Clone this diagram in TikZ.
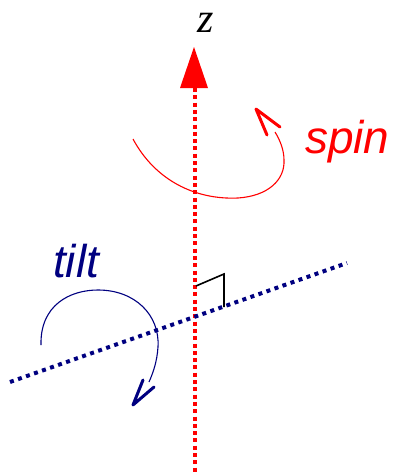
\documentclass[tikz,border=0pt]{standalone}
\usepackage{fontspec}
\setmainfont{Liberation Serif}
\setsansfont{Liberation Sans}
\definecolor{navyc}{RGB}{0,0,128}
\definecolor{redc}{RGB}{255,0,0}
\begin{document}
\begin{tikzpicture}[x=1pt,y=-1pt,
  redaxis/.style={redc,line width=4pt,dash pattern=on 4pt off 3.3pt},
  blueaxis/.style={navyc,line width=4pt,dash pattern=on 4pt off 4.5pt},
  thincurve/.style={line width=1.1pt},
  headv/.style={line width=3pt,line cap=round,line join=round},
  lbl/.style={inner sep=0pt,anchor=base west}]
\useasboundingbox (0,0) rectangle (396,475);
% z axis
\coordinate (ztop) at (194.5,88);
\coordinate (zbot) at (194.5,475);
\draw[redaxis] (ztop) -- (zbot);
\fill[redc] (194,47) -- (180,88) -- (208,88) -- cycle;
\node[inner sep=0pt,anchor=base] (zlabel) at (206,32) {\fontsize{42}{46}\selectfont\itshape z};
% tilt axis
\coordinate (ta) at (10,382);
\coordinate (tb) at (347,263);
\draw[blueaxis] (ta) -- (tb);
% right angle mark
\draw[black,line width=1.6pt] (196,286) -- (224,274) -- (224,307);
% spin arrow
\draw[redc,thincurve] (133,139) .. controls (155,180) and (195,200) .. (238,198)
  .. controls (268,196) and (285,180) .. (284,160)
  .. controls (284,150) and (280,140) .. (275,132);
\draw[redc,headv] (280,127) -- (256,109) -- (267,135);
\node[lbl,text=redc] (spin) at (305,153) {\fontsize{46}{50}\selectfont\sffamily\itshape spin};
% tilt arrow
\draw[navyc,thincurve] (41,345) .. controls (40,305) and (70,290) .. (98,290)
  .. controls (135,290) and (160,315) .. (158,347)
  .. controls (157,362) and (153,373) .. (149,382);
\draw[navyc,headv] (143,380) -- (133,405) -- (154,387);
\node[lbl,text=navyc] (tilt) at (53,277) {\fontsize{46}{50}\selectfont\sffamily\itshape tilt};
\end{tikzpicture}
\end{document}
